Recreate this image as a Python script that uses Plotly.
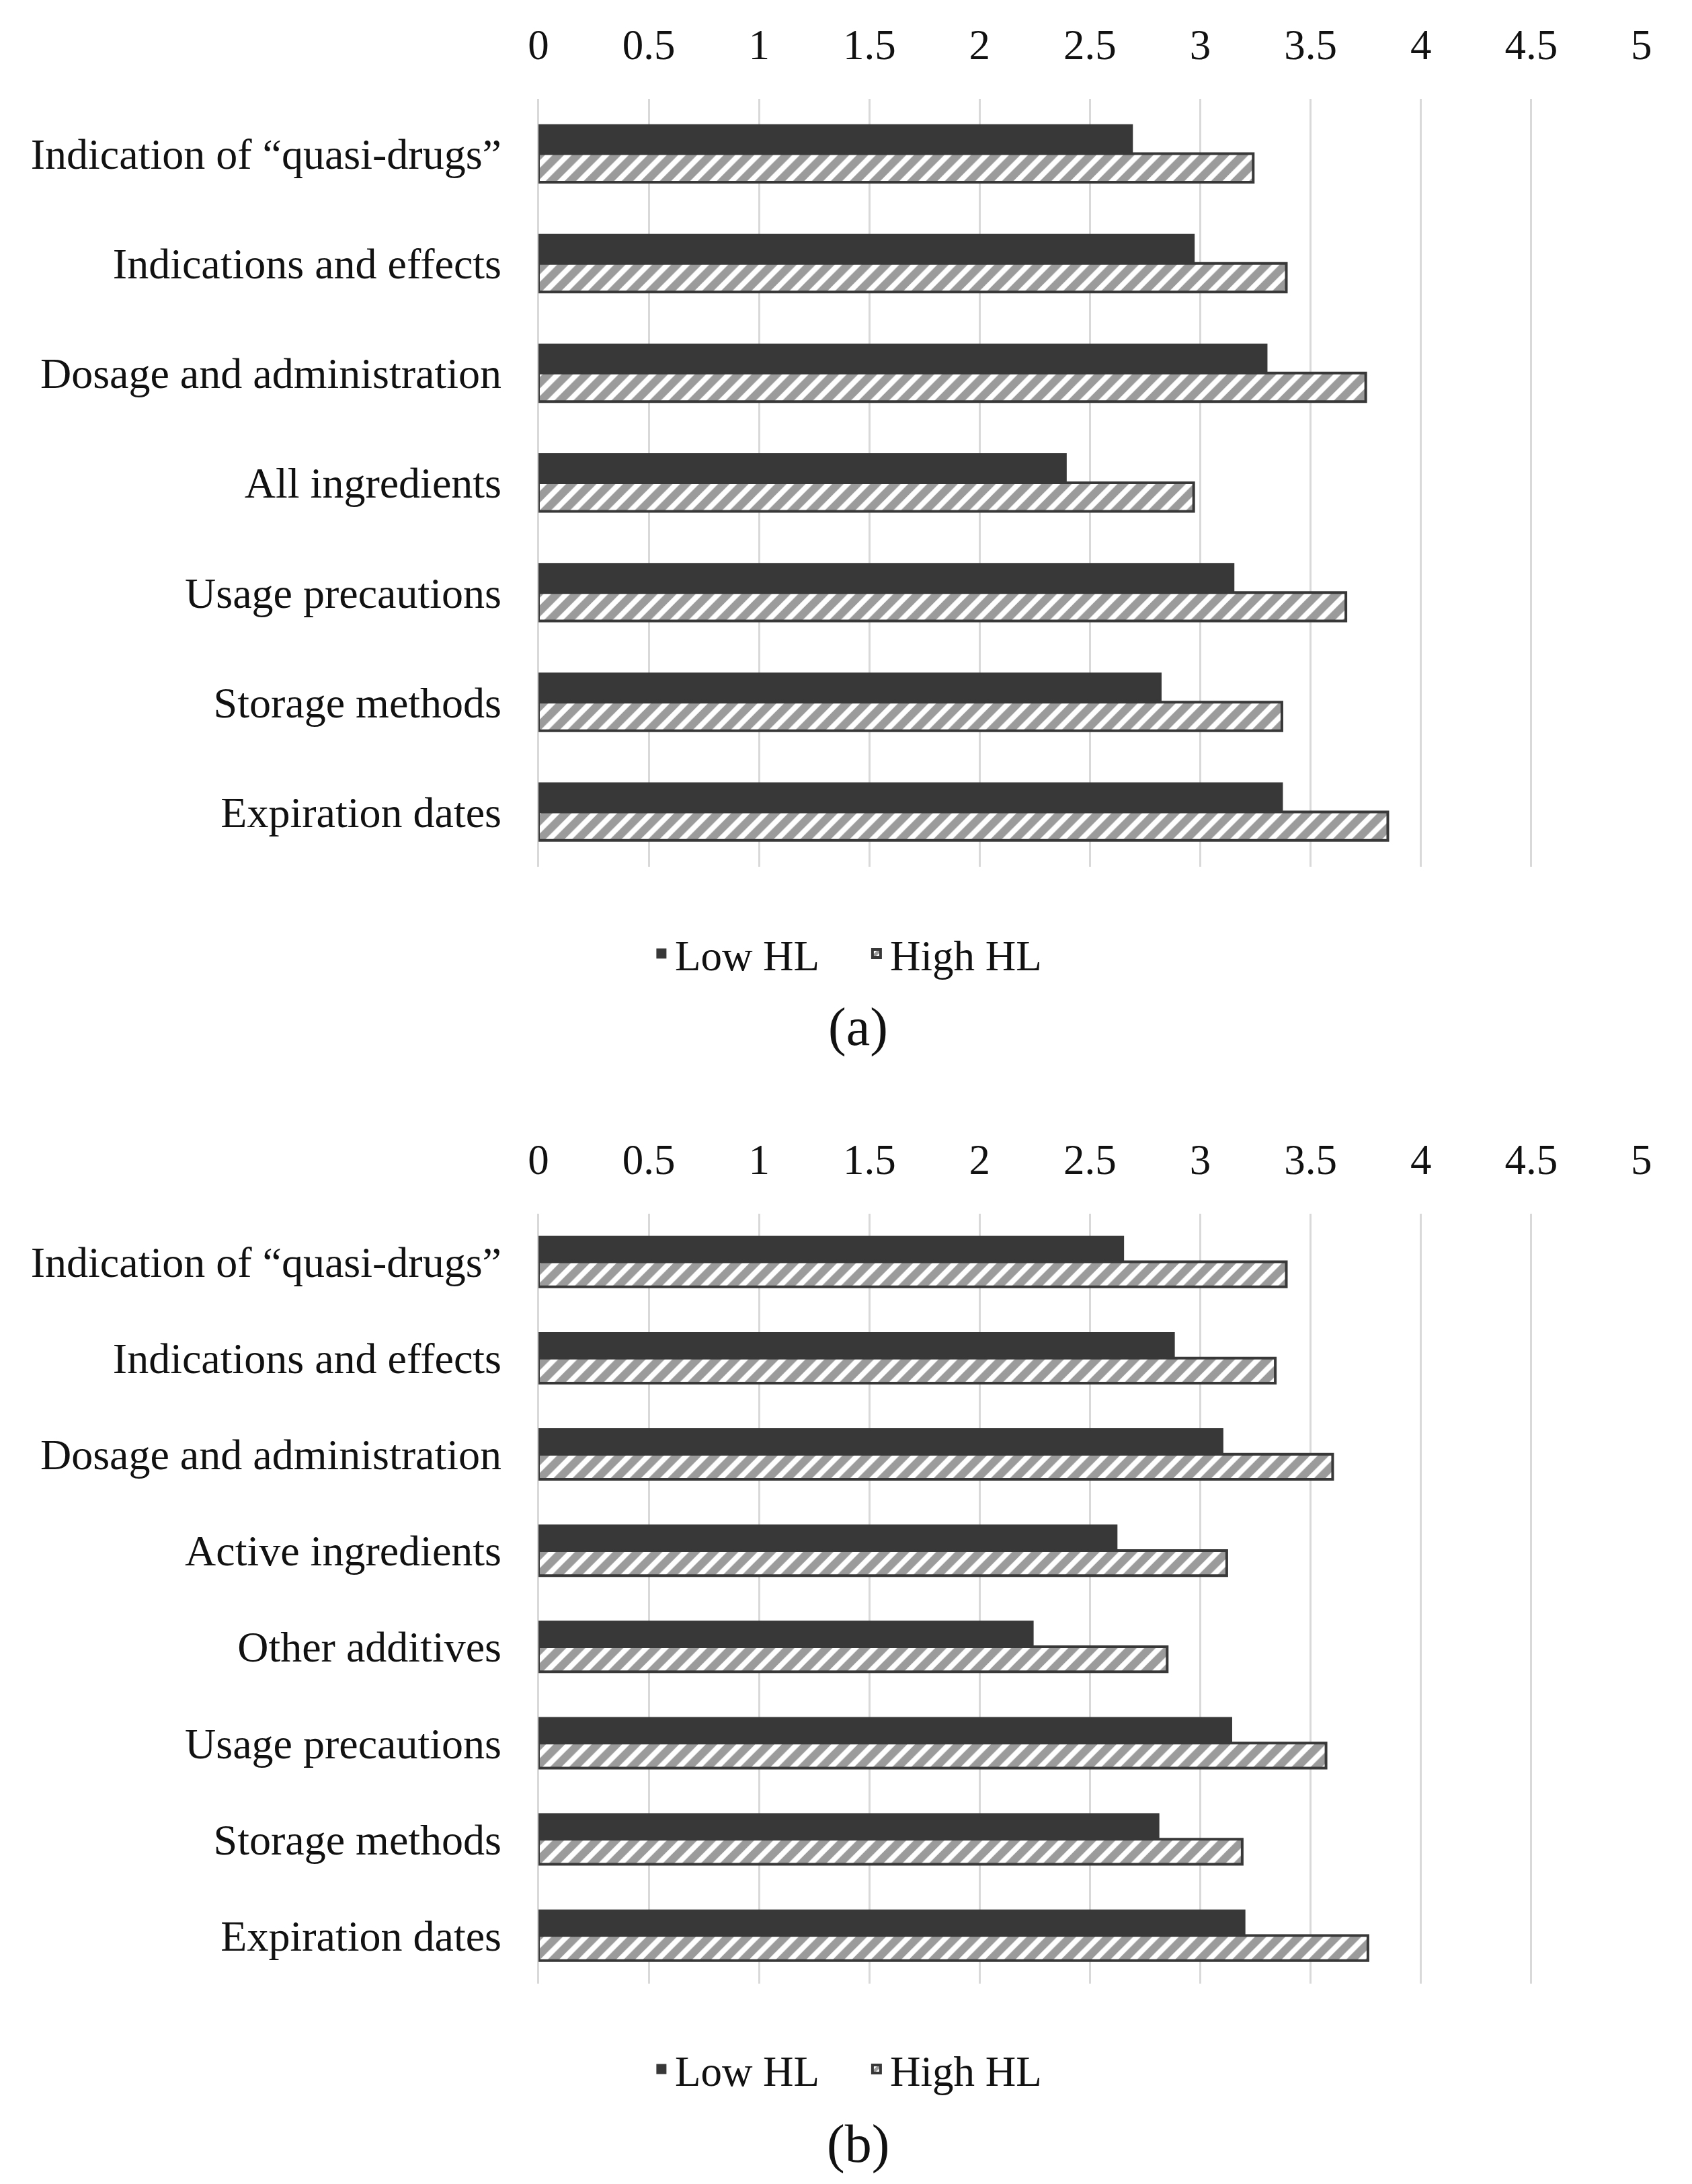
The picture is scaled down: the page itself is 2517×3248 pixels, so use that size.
import plotly.graph_objects as go

# ---- data ----
cats_a = ['Indication of “quasi-drugs”', 'Indications and effects', 'Dosage and administration',
          'All ingredients', 'Usage precautions', 'Storage methods', 'Expiration dates']
low_a = [2.69, 2.97, 3.30, 2.39, 3.15, 2.82, 3.37]
high_a = [3.24, 3.39, 3.75, 2.97, 3.66, 3.37, 3.85]

cats_b = ['Indication of “quasi-drugs”', 'Indications and effects', 'Dosage and administration',
          'Active ingredients', 'Other additives', 'Usage precautions', 'Storage methods', 'Expiration dates']
low_b = [2.65, 2.88, 3.10, 2.62, 2.24, 3.14, 2.81, 3.20]
high_b = [3.39, 3.34, 3.60, 3.12, 2.85, 3.57, 3.19, 3.76]

x_ticks = [0, 0.5, 1, 1.5, 2, 2.5, 3, 3.5, 4, 4.5, 5]
series_names = ['Low HL', 'High HL']
captions = ['(a)', '(b)']

DARK = '#383838'
GRID = '#d9d9d9'
TXT = '#111111'
FONT = 'Liberation Serif, Times New Roman, serif'
W, H = 2517, 3248

fig = go.Figure()


def add_pair(cats, low, high, xa, ya, legend):
    fig.add_trace(go.Bar(
        y=cats, x=low, name=series_names[0], orientation='h', xaxis=xa, yaxis=ya,
        legend=legend,
        marker=dict(color=DARK, line=dict(color=DARK, width=3)),
    ))
    fig.add_trace(go.Bar(
        y=cats, x=high, name=series_names[1], orientation='h', xaxis=xa, yaxis=ya,
        legend=legend,
        marker=dict(color='white', line=dict(color=DARK, width=4),
                    pattern=dict(shape='/', fgcolor=DARK, bgcolor='white', size=20, solidity=0.6)),
    ))


add_pair(cats_a, low_a, high_a, 'x', 'y', 'legend')
add_pair(cats_b, low_b, high_b, 'x2', 'y2', 'legend2')

x_left, x_right = 787 / W, 2449 / W
dom_a = [1 - 1281 / H, 1 - 139 / H]
dom_b = [1 - 2942 / H, 1 - 1797 / H]

xcommon = dict(range=[0, 5], tickvals=x_ticks, side='top', showgrid=True, gridcolor=GRID,
               gridwidth=3, zeroline=True, zerolinecolor=GRID, zerolinewidth=3,
               showline=False, ticks='', ticklabelstandoff=45,
               tickfont=dict(family=FONT, size=63, color=TXT), domain=[x_left, x_right],
               fixedrange=True)
ycommon = dict(autorange='reversed', showgrid=False, zeroline=False, showline=False, ticks='',
               ticklabelstandoff=54, tickfont=dict(family=FONT, size=64, color=TXT),
               fixedrange=True)

legcommon = dict(orientation='h', xanchor='center', yanchor='middle', x=0.507,
                 font=dict(family=FONT, size=63, color=TXT), bgcolor='rgba(0,0,0,0)',
                 traceorder='normal', entrywidth=275, entrywidthmode='pixels')

fig.update_layout(
    width=W, height=H,
    margin=dict(l=0, r=0, t=0, b=0),
    paper_bgcolor='white', plot_bgcolor='white',
    barmode='group', bargap=0.48, bargroupgap=0,
    xaxis=dict(**xcommon, anchor='y'),
    yaxis=dict(**ycommon, domain=dom_a, anchor='x'),
    xaxis2=dict(**xcommon, anchor='y2'),
    yaxis2=dict(**ycommon, domain=dom_b, anchor='x2'),
    legend=dict(**legcommon, y=1 - 1410 / H),
    legend2=dict(**legcommon, y=1 - 3069 / H),
    annotations=[
        dict(text=captions[0], x=0.504, y=1 - 1519 / H, xref='paper', yref='paper',
             xanchor='center', yanchor='middle',
             showarrow=False, font=dict(family=FONT, size=80, color=TXT)),
        dict(text=captions[1], x=0.504, y=1 - 3180 / H, xref='paper', yref='paper',
             xanchor='center', yanchor='middle',
             showarrow=False, font=dict(family=FONT, size=80, color=TXT)),
    ],
)

fig.write_html('out.html')
